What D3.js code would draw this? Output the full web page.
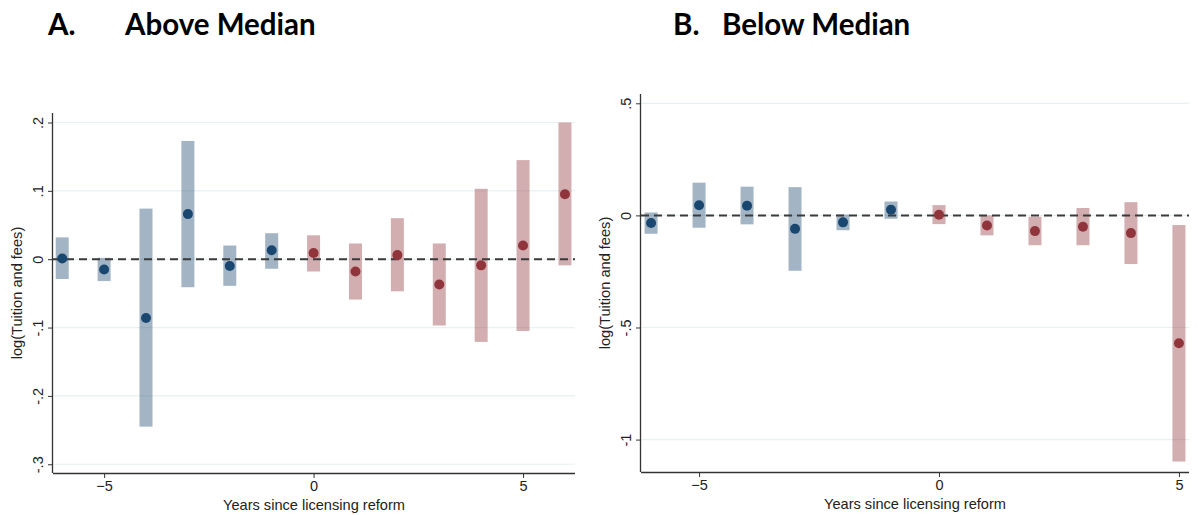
<!DOCTYPE html>
<html>
<head>
<meta charset="utf-8">
<script src="https://cdn.jsdelivr.net/npm/d3@7"></script>
<style>
  html, body { margin: 0; padding: 0; background: #fff; }
  svg { display: block; }
  .lbl { font-family: "Liberation Sans", Arial, Helvetica, sans-serif; fill: #222; }
</style>
</head>
<body>
<svg id="chart" width="1199" height="515"></svg>
<script>
// Event-study estimates of log(Tuition and fees), years relative to licensing reform
const years = [-6, -5, -4, -3, -2, -1, 0, 1, 2, 3, 4, 5, 6];

// Panel A: above-median group
const aboveCoef  = [0.001, -0.015, -0.086, 0.066, -0.010, 0.013, 0.009, -0.018, 0.006, -0.037, -0.009, 0.020, 0.095];
const aboveLower = [-0.029, -0.032, -0.245, -0.041, -0.039, -0.014, -0.018, -0.059, -0.047, -0.097, -0.121, -0.105, -0.009];
const aboveUpper = [0.032, 0.002, 0.074, 0.173, 0.020, 0.038, 0.035, 0.023, 0.060, 0.023, 0.103, 0.145, 0.200];
const aboveYTicks = [-0.3, -0.2, -0.1, 0, 0.1, 0.2];
const aboveYLabels = ["-.3", "-.2", "-.1", "0", ".1", ".2"];

// Panel B: below-median group (no estimate for year 6)
const belowYears = [-6, -5, -4, -3, -2, -1, 0, 1, 2, 3, 4, 5];
const belowCoef  = [-0.034, 0.045, 0.043, -0.060, -0.031, 0.025, 0.003, -0.045, -0.070, -0.051, -0.079, -0.570];
const belowLower = [-0.082, -0.055, -0.040, -0.247, -0.066, -0.015, -0.039, -0.089, -0.133, -0.133, -0.217, -1.098];
const belowUpper = [0.013, 0.146, 0.128, 0.126, 0.004, 0.062, 0.046, 0.000, -0.006, 0.033, 0.059, -0.043];
const belowYTicks = [-1, -0.5, 0, 0.5];
const belowYLabels = ["-1", "-.5", "0", ".5"];

const xTicks = [-5, 0, 5];
const xTitle = "Years since licensing reform";
const yTitle = "log(Tuition and fees)";

const navy = "#1a476f";
const maroon = "#90353b";

const svg = d3.select("#chart");

function drawPanel(cfg) {
  const g = svg.append("g");
  const x = d3.scaleLinear().domain(cfg.xDomain).range([cfg.left, cfg.right]);
  const y = d3.scaleLinear().domain(cfg.yDomain).range([cfg.bottom, cfg.top]);

  // horizontal gridlines
  g.append("g").selectAll("line").data(cfg.yTicks).join("line")
    .attr("x1", cfg.left).attr("x2", cfg.right)
    .attr("y1", d => y(d)).attr("y2", d => y(d))
    .attr("stroke", "#e8f1f2").attr("stroke-width", 1.2);

  const rows = cfg.years.map((yr, i) => ({
    yr, b: cfg.coef[i], lo: cfg.lower[i], hi: cfg.upper[i]
  }));
  const col = d => d.yr < 0 ? navy : maroon;
  const barW = 13;

  // confidence-interval bars
  g.append("g").selectAll("rect").data(rows).join("rect")
    .attr("x", d => x(d.yr) - barW / 2)
    .attr("width", barW)
    .attr("y", d => y(d.hi))
    .attr("height", d => y(d.lo) - y(d.hi))
    .attr("fill", col).attr("fill-opacity", 0.4);

  // reference line at zero
  g.append("line")
    .attr("x1", cfg.left).attr("x2", cfg.right)
    .attr("y1", y(0)).attr("y2", y(0))
    .attr("stroke", "#3a3a3a").attr("stroke-width", 2)
    .attr("stroke-dasharray", "8,5");

  // point estimates
  g.append("g").selectAll("circle").data(rows).join("circle")
    .attr("cx", d => x(d.yr)).attr("cy", d => y(d.b))
    .attr("r", 5).attr("fill", col);

  // y axis
  const yAxis = d3.axisLeft(y).tickValues(cfg.yTicks)
    .tickFormat((d, i) => cfg.yLabels[i]).tickSize(5).tickPadding(4);
  const ya = g.append("g").attr("transform", `translate(${cfg.left},0)`).call(yAxis);
  ya.attr("font-family", null).attr("font-size", null);
  ya.select(".domain").attr("d", `M-0.5,${cfg.bottom}V${cfg.top}`).attr("stroke", "#333").attr("stroke-width", 1.3);
  ya.selectAll(".tick line").attr("stroke", "#333");
  ya.selectAll(".tick text")
    .attr("class", "lbl").style("font-size", "14.5px").attr("fill", null)
    .attr("text-anchor", "middle").attr("x", null).attr("dy", null)
    .attr("transform", "translate(-14,0) rotate(-90)")
    .attr("dominant-baseline", "middle");

  // x axis
  const xAxis = d3.axisBottom(x).tickValues(xTicks).tickSize(5).tickPadding(3);
  const xa = g.append("g").attr("transform", `translate(0,${cfg.bottom})`).call(xAxis);
  xa.attr("font-family", null).attr("font-size", null);
  xa.select(".domain").attr("d", `M${cfg.left},0.5H${cfg.right}`).attr("stroke", "#333").attr("stroke-width", 1.3);
  xa.selectAll(".tick line").attr("stroke", "#333");
  xa.selectAll(".tick text")
    .attr("class", "lbl").style("font-size", "14.5px").attr("fill", null);

  // axis titles
  g.append("text")
    .attr("class", "lbl")
    .attr("x", (cfg.left + cfg.right) / 2).attr("y", cfg.bottom + 37)
    .attr("text-anchor", "middle")
    .style("font-size", "14.6px")
    .text(xTitle);
  g.append("text")
    .attr("class", "lbl")
    .attr("transform", `translate(${cfg.yTitleX},${(cfg.top + cfg.bottom) / 2}) rotate(-90)`)
    .attr("text-anchor", "middle")
    .style("font-size", "14.6px")
    .text(yTitle);

  // panel heading
  const h = svg.append("text")
    .attr("y", 35)
    .style("font-family", "Lato, 'Open Sans', sans-serif").attr("font-weight", 700)
    .style("font-size", "29.5px").attr("fill", "#000");
  h.append("tspan").attr("x", cfg.letterX).text(cfg.letter);
  h.append("tspan").attr("x", cfg.titleX).text(cfg.title);
}

drawPanel({
  years: years, coef: aboveCoef, lower: aboveLower, upper: aboveUpper,
  yTicks: aboveYTicks, yLabels: aboveYLabels,
  xDomain: [-6.22, 6.24], yDomain: [-0.3128, 0.2139],
  left: 53, right: 575, top: 113, bottom: 473, yTitleX: 22,
  letter: "A.", letterX: 48, title: "Above Median", titleX: 125
});

drawPanel({
  years: belowYears, coef: belowCoef, lower: belowLower, upper: belowUpper,
  yTicks: belowYTicks, yLabels: belowYLabels,
  xDomain: [-6.21, 5.21], yDomain: [-1.1446, 0.5415],
  left: 641, right: 1189, top: 94, bottom: 472, yTitleX: 610,
  letter: "B.", letterX: 673, title: "Below Median", titleX: 722
});
</script>
</body>
</html>
